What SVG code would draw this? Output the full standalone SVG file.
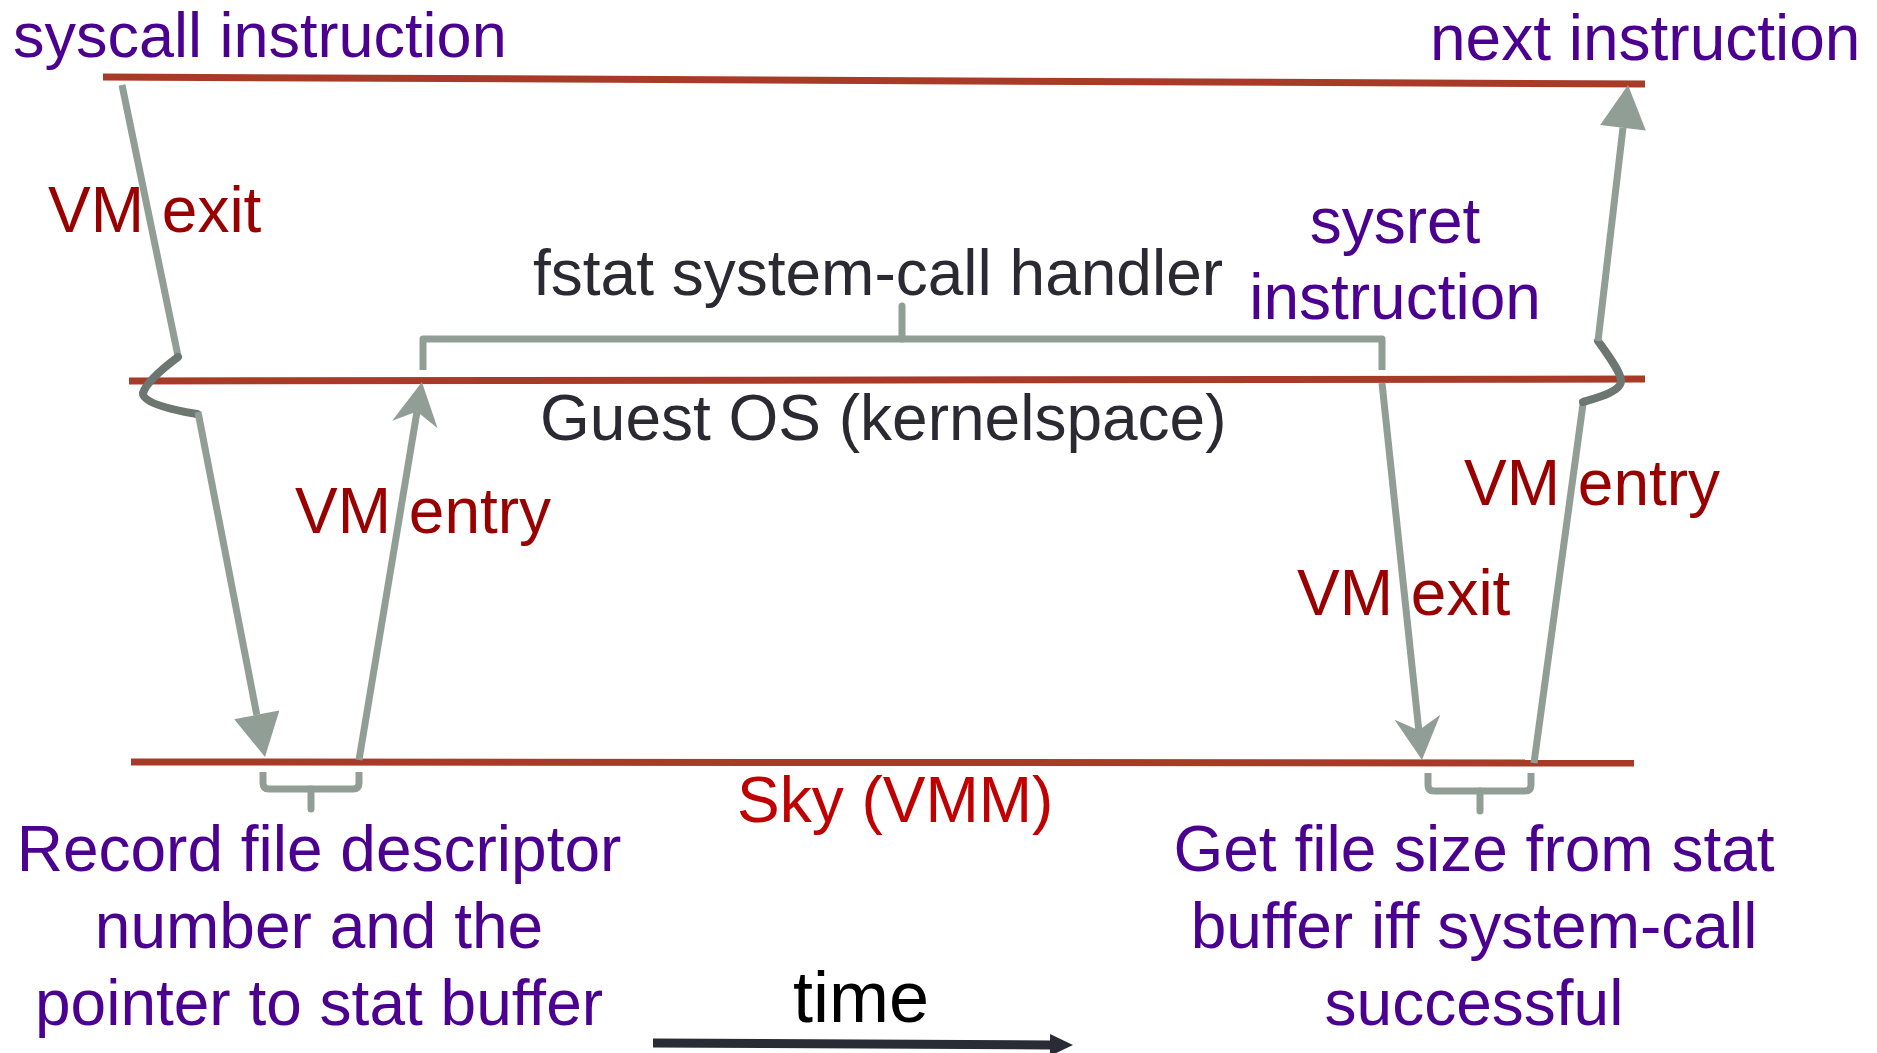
<svg xmlns="http://www.w3.org/2000/svg" width="1877" height="1053" viewBox="0 0 1877 1053">
  <style>
    text { font-family: "Liberation Sans", Arial, sans-serif; font-size: 64px; }
    .purple { fill: #4b0090; }
    .vm { fill: #990000; }
    .layer { fill: #2b2a33; }
    .sky { fill: #c00000; }
    .lane { stroke: #a83a28; stroke-width: 7; fill: none; }
    .flow { stroke: #919e95; stroke-width: 7; fill: none; }
    .hook { stroke: #6b7770; stroke-width: 8; fill: none; stroke-linecap: round; }
    .brace { stroke: #919e95; stroke-width: 7; fill: none; stroke-linejoin: round; }
  </style>
  <defs>
    <marker id="tri" markerUnits="userSpaceOnUse" orient="auto" refX="0" refY="0" markerWidth="50" markerHeight="50" viewBox="-2 -25 50 50" overflow="visible">
      <path d="M0,-23 L43,0 L0,23 Z" fill="#919e95"/>
    </marker>
    <marker id="stealth" markerUnits="userSpaceOnUse" orient="auto" refX="13" refY="0" markerWidth="50" markerHeight="50" viewBox="-2 -25 50 50" overflow="visible">
      <path d="M0,-23 L43,0 L0,23 L13,0 Z" fill="#919e95"/>
    </marker>
    <marker id="timehead" markerUnits="userSpaceOnUse" orient="auto" refX="0" refY="0" markerWidth="30" markerHeight="30" viewBox="-2 -15 30 30" overflow="visible">
      <path d="M0,-11 L23,0 L0,11 Z" fill="#2b2b35"/>
    </marker>
  </defs>

  <!-- execution levels -->
  <g id="lanes">
    <line class="lane" x1="103" y1="77" x2="1645" y2="84"/>
    <line class="lane" x1="129" y1="381" x2="1645" y2="379"/>
    <line class="lane" x1="131" y1="762" x2="1634" y2="763"/>
  </g>

  <!-- transitions between levels -->
  <g id="connectors">
    <!-- syscall: VM exit into the VMM -->
    <path class="flow" d="M122,85 L178,356"/>
    <path class="hook" d="M178,357 C162,369 146,383 143,393 C142,403 172,410 197,414"/>
    <path class="flow" d="M198,412 L256.8,714.8" marker-end="url(#tri)"/>
    <!-- VM entry into the guest kernel -->
    <path class="flow" d="M359,760 L417,411.6" marker-end="url(#stealth)"/>
    <!-- sysret: VM exit into the VMM -->
    <path class="flow" d="M1382,383 L1418.8,730.2" marker-end="url(#stealth)"/>
    <!-- VM entry back to the next instruction -->
    <path class="flow" d="M1534,763 L1583,404"/>
    <path class="hook" d="M1598,341 C1608,355 1620,371 1621,380 C1622,391 1600,397 1583,402"/>
    <path class="flow" d="M1598,341 L1623,127.7" marker-end="url(#tri)"/>
    <!-- time axis -->
    <path d="M653,1043 L1050,1045" stroke="#2b2b35" stroke-width="9" fill="none" marker-end="url(#timehead)"/>
  </g>

  <!-- braces -->
  <g id="handler-brace">
    <path class="brace" d="M423,370 V339 H1382 V370"/>
    <path class="brace" d="M902,339 V306" stroke-linecap="round"/>
  </g>
  <g id="record-brace">
    <path class="brace" d="M263,772 V783 Q263,789 269,789 H353 Q359,789 359,783 V772"/>
    <path class="brace" d="M311,789 V809" stroke-linecap="round"/>
  </g>
  <g id="filesize-brace">
    <path class="brace" d="M1428,773 V785 Q1428,791 1434,791 H1525 Q1531,791 1531,785 V773"/>
    <path class="brace" d="M1480,791 V811" stroke-linecap="round"/>
  </g>

  <!-- labels -->
  <g id="syscall-label"><text class="purple" x="13" y="57" style="font-size:63px">syscall instruction</text></g>
  <g id="next-label"><text class="purple" x="1430" y="60">next instruction</text></g>
  <g id="sysret-label">
    <text class="purple" x="1395" y="243" text-anchor="middle">sysret</text>
    <text class="purple" x="1395" y="319" text-anchor="middle">instruction</text>
  </g>
  <g id="handler-label"><text class="layer" x="533" y="295">fstat system-call handler</text></g>
  <g id="guest-label"><text class="layer" x="540" y="440">Guest OS (kernelspace)</text></g>
  <g id="sky-label"><text class="sky" x="737" y="822">Sky (VMM)</text></g>
  <g id="vmexit-left"><text class="vm" x="48" y="232">VM exit</text></g>
  <g id="vmentry-left"><text class="vm" x="295" y="533">VM entry</text></g>
  <g id="vmexit-right"><text class="vm" x="1297" y="615">VM exit</text></g>
  <g id="vmentry-right"><text class="vm" x="1464" y="505">VM entry</text></g>
  <g id="record-label">
    <text class="purple" x="319" y="871" text-anchor="middle">Record file descriptor</text>
    <text class="purple" x="319" y="948" text-anchor="middle">number and the</text>
    <text class="purple" x="319" y="1025" text-anchor="middle">pointer to stat buffer</text>
  </g>
  <g id="filesize-label">
    <text class="purple" x="1474" y="871" text-anchor="middle">Get file size from stat</text>
    <text class="purple" x="1474" y="948" text-anchor="middle">buffer iff system-call</text>
    <text class="purple" x="1474" y="1025" text-anchor="middle">successful</text>
  </g>
  <g id="time-label"><text x="793" y="1022" style="font-size:72px" fill="#000">time</text></g>
</svg>
